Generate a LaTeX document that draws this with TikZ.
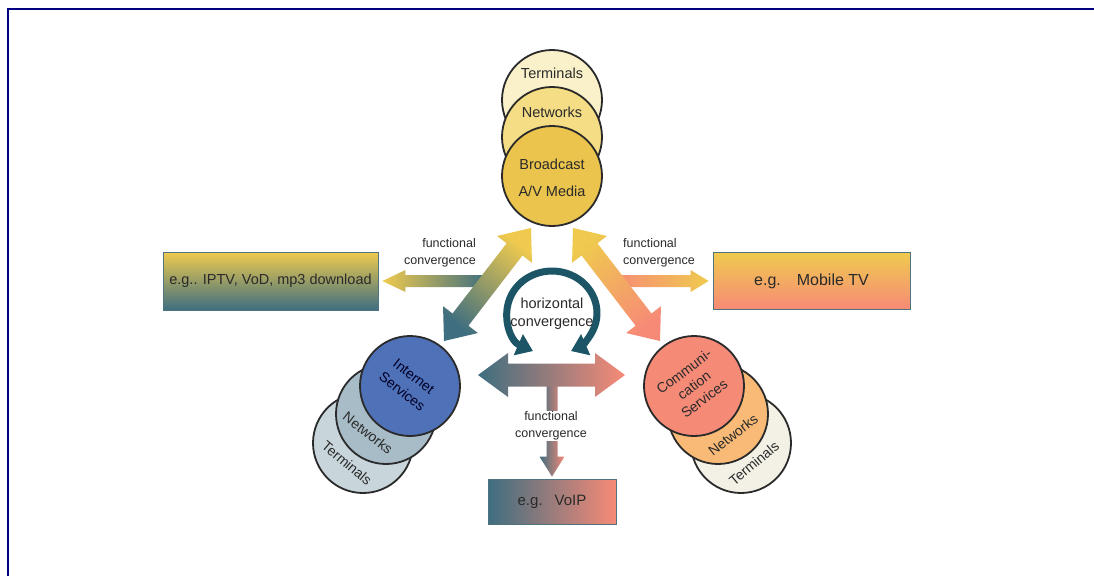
\documentclass[tikz,border=0pt]{standalone}
\usepackage{fontspec}
\setmainfont{Liberation Sans}
\usetikzlibrary{calc,arrows.meta}

\definecolor{framecol}{HTML}{000080}
\definecolor{cgold}{HTML}{EFCA4E}
\definecolor{cteal}{HTML}{3E6E80}
\definecolor{csalmon}{HTML}{F78A77}
\definecolor{cloop}{HTML}{1C5566}
\definecolor{ink}{HTML}{2A2A2A}
\definecolor{boxline}{HTML}{4E7482}
\definecolor{topterm}{HTML}{FAF1CB}
\definecolor{topnet}{HTML}{F4DD85}
\definecolor{topcast}{HTML}{EAC44D}
\definecolor{inetterm}{HTML}{C8D6DC}
\definecolor{inetnet}{HTML}{A8BCC7}
\definecolor{inetsvc}{HTML}{4F71B8}
\definecolor{comterm}{HTML}{F3F0E6}
\definecolor{comnet}{HTML}{F8BA76}
\definecolor{comsvc}{HTML}{F58A77}

% double-headed block arrow between two named points:
% #1 style, #2 end A, #3 end B, #4 shaft half width, #5 head half width, #6 head length
\newcommand\dblarrow[6]{%
  \path[#1] (#2)
    -- ($(#2)!#6!(#3)!#5!90:(#3)$)
    -- ($(#2)!#6!(#3)!#4!90:(#3)$)
    -- ($(#3)!#6!(#2)!#4!-90:(#2)$)
    -- ($(#3)!#6!(#2)!#5!-90:(#2)$)
    -- (#3)
    -- ($(#3)!#6!(#2)!#5!90:(#2)$)
    -- ($(#3)!#6!(#2)!#4!90:(#2)$)
    -- ($(#2)!#6!(#3)!#4!-90:(#3)$)
    -- ($(#2)!#6!(#3)!#5!-90:(#3)$)
    -- cycle;}
% single-headed block arrow: #2 tail, #3 tip, other arguments as above
\newcommand\onearrow[6]{%
  \path[#1] ($(#2)!#4!90:(#3)$)
    -- ($(#3)!#6!(#2)!#4!-90:(#2)$)
    -- ($(#3)!#6!(#2)!#5!-90:(#2)$)
    -- (#3)
    -- ($(#3)!#6!(#2)!#5!90:(#2)$)
    -- ($(#3)!#6!(#2)!#4!90:(#2)$)
    -- ($(#2)!#4!-90:(#3)$)
    -- cycle;}

\tikzset{
  disc/.style={circle, draw=ink, line width=1.8pt, minimum size=100pt, inner sep=0pt},
  disctext/.style={text=ink, font=\fontsize{14}{17}\selectfont, align=center, inner sep=0pt},
  fctext/.style={text=ink, font=\fontsize{12.5}{17}\selectfont, inner sep=0pt},
  egbox/.style={draw=boxline, line width=0.8pt, inner sep=0pt, text=ink},
}

\begin{document}
\begin{tikzpicture}[x=1pt,y=-1pt]
\useasboundingbox (0,0) rectangle (1094,576);
\fill[white] (0,0) rectangle (1094,576);
\draw[framecol, line width=2pt] (7.7,576) -- (7.7,9.2) -- (1094,9.2);

% broadcast stack
\node[disc, fill=topterm] (bc-term) at (552,100) {};
\node[disc, fill=topnet]  (bc-net)  at (552,137) {};
\node[disc, fill=topcast] (bc-media) at (552,176) {};
\node[disctext, font=\fontsize{14.5}{17}\selectfont, anchor=base] (bc-term-t) at (552,78) {Terminals};
\node[disctext, font=\fontsize{14.5}{17}\selectfont, anchor=base] (bc-net-t) at (552,117) {Networks};
\node[disctext, font=\fontsize{14.5}{27}\selectfont] (bc-media-t) at (552,178) {Broadcast\\A/V Media};

% internet stack
\node[disc, fill=inetterm] (in-term) at (363,443) {};
\node[disc, fill=inetnet]  (in-net)  at (386,414) {};
\node[disc, fill=inetsvc]  (in-svc)  at (410,386) {};
\node[disctext, rotate=-38, text=black!85!blue, font=\fontsize{14}{19}\selectfont] (in-svc-t) at (408,384) {Internet\\Services};
\node[disctext, rotate=-38] (in-net-t) at (368,433) {Networks};
\node[disctext, rotate=-40] (in-term-t) at (347,463) {Terminals};

% communication stack
\node[disc, fill=comterm] (co-term) at (741,443) {};
\node[disc, fill=comnet]  (co-net)  at (718,414) {};
\node[disc, fill=comsvc]  (co-svc)  at (694,386) {};
\node[disctext, rotate=37, font=\fontsize{14}{17}\selectfont] (co-svc-t) at (694,385) {Communi-\\cation\\Services};
\node[disctext, rotate=38] (co-net-t) at (733,435) {Networks};
\node[disctext, rotate=40] (co-term-t) at (754,463) {Terminals};

% example boxes
\node[egbox, minimum width=215pt, minimum height=58pt, top color=cgold, bottom color=cteal,
      font=\fontsize{14.5}{17}\selectfont] (iptv) at (270.5,281) {e.g.. IPTV, VoD, mp3 download};
\node[egbox, minimum width=197pt, minimum height=57pt, top color=cgold, bottom color=csalmon,
      font=\fontsize{16}{19}\selectfont] (mobile) at (811.5,281) {e.g.\hspace{16pt}Mobile TV};
\node[egbox, minimum width=128pt, minimum height=45pt, left color=cteal, right color=csalmon,
      font=\fontsize{15}{18}\selectfont] (voip) at (552,501.5) {e.g.\hspace{12pt}VoIP};

% arrow end points
\coordinate (hl-tail) at (487,281);
\coordinate (hl-tip)  at ($(iptv.east)+(4,0)$);
\coordinate (hr-tail) at (612,281);
\coordinate (hr-tip)  at ($(mobile.west)+(-4,0)$);
\coordinate (dl-lo) at (444,341);
\coordinate (dl-up) at (531,228);
\coordinate (dr-lo) at (660,341);
\coordinate (dr-up) at (573,228);
\coordinate (hz-l) at (478,375);
\coordinate (hz-r) at (625,375);
\coordinate (dn-tail) at (552,375);
\coordinate (dn-tip) at ($(voip.north)+(0,-2)$);
\coordinate (loop) at (552,313);

% functional convergence arrows
\onearrow{left color=cgold, right color=cteal}{hl-tail}{hl-tip}{6pt}{11pt}{23pt}
\onearrow{left color=csalmon, right color=cgold}{hr-tail}{hr-tip}{6pt}{11pt}{18pt}
\dblarrow{top color=cgold, bottom color=cteal, shading angle=-37.5}{dl-lo}{dl-up}{10pt}{22pt}{27pt}
\dblarrow{top color=cgold, bottom color=csalmon, shading angle=37.5}{dr-lo}{dr-up}{10pt}{22pt}{27pt}
\onearrow{left color=cteal, right color=csalmon}{dn-tail}{dn-tip}{5.5pt}{12.5pt}{20pt}
\dblarrow{left color=cteal, right color=csalmon}{hz-l}{hz-r}{11.5pt}{22pt}{30pt}

\node[fctext, align=right, anchor=east] (fc-left) at (476,253) {functional\\convergence};
\node[fctext, align=left, anchor=west] (fc-right) at (623,253) {functional\\convergence};
\node[fctext, align=center, fill=white, inner sep=1pt] (fc-down) at (551,426) {functional\\convergence};

% horizontal convergence loop
\draw[cloop, line width=7pt, {Triangle[width=22pt,length=16pt]}-{Triangle[width=22pt,length=16pt]}]
  ($(loop)+(115:45 and 42)$) arc[start angle=115, end angle=425, x radius=45, y radius=42];
\node[text=ink, font=\fontsize{14.5}{18}\selectfont, align=center, inner sep=0pt] (hconv) at (552,314) {horizontal\\convergence};

\end{tikzpicture}
\end{document}
